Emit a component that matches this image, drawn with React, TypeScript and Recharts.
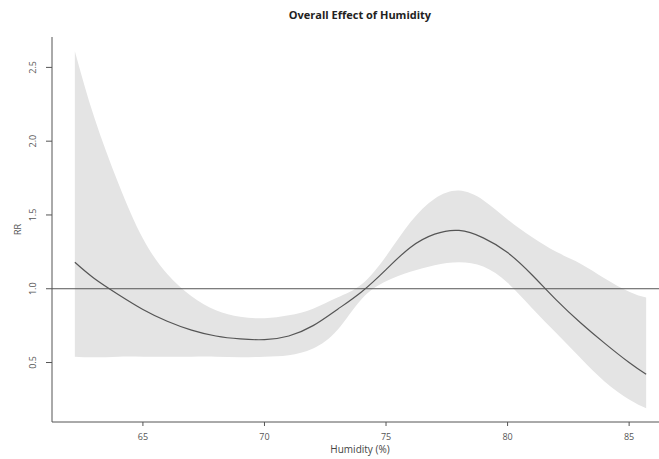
import {
  ComposedChart,
  Area,
  Line,
  XAxis,
  YAxis,
  ReferenceLine,
} from "recharts";

// humidity grid (%) and the fitted RR curve with its confidence band
const humidity = [
  62.2, 63, 64, 65, 66, 67, 68, 69, 70, 71, 72, 73, 74, 75, 76, 77, 78, 79, 80,
  81, 82, 83, 84, 85, 85.7,
];
const rr = [
  1.18, 1.07, 0.96, 0.86, 0.78, 0.72, 0.68, 0.66, 0.655, 0.68, 0.75, 0.86,
  0.98, 1.13, 1.28, 1.37, 1.395, 1.345, 1.245, 1.095, 0.925, 0.77, 0.63, 0.5,
  0.42,
];
const rrHigh = [
  2.61, 2.16, 1.71, 1.34, 1.1, 0.95, 0.855, 0.81, 0.8, 0.82, 0.865, 0.94, 1.03,
  1.22, 1.45, 1.61, 1.665, 1.6, 1.47, 1.35, 1.25, 1.17, 1.07, 0.98, 0.94,
];
const rrLow = [
  0.54, 0.535, 0.54, 0.54, 0.54, 0.54, 0.54, 0.536, 0.54, 0.55, 0.595, 0.72,
  0.93, 1.05, 1.115, 1.16, 1.18, 1.15, 1.04, 0.87, 0.7, 0.53, 0.37, 0.25, 0.19,
];
const xTicks = [65, 70, 75, 80, 85];
const yTicks = [0.5, 1.0, 1.5, 2.0, 2.5];

const FONT = "'Open Sans', 'DejaVu Sans', sans-serif";
const AXIS = "#555";

const data = humidity.map((h, i) => ({
  h,
  rr: rr[i],
  band: [rrLow[i], rrHigh[i]],
}));

function YTick({ x, y, payload }: any) {
  return (
    <text
      x={x - 8}
      y={y}
      transform={`rotate(-90, ${x - 8}, ${y})`}
      textAnchor="middle"
      fontSize={9}
      fontFamily={FONT}
      fill="#555"
    >
      {Number(payload.value).toFixed(1)}
    </text>
  );
}

function XTick({ x, y, payload }: any) {
  return (
    <text
      x={x}
      y={y + 12}
      textAnchor="middle"
      fontSize={9}
      fontFamily={FONT}
      fill="#555"
    >
      {payload.value}
    </text>
  );
}

export default function App() {
  return (
    <div
      style={{
        position: "fixed",
        top: 0,
        left: 0,
        width: 659,
        height: 459,
        overflow: "hidden",
        background: "#fff",
        fontFamily: FONT,
      }}
    >
      <div
        style={{
          position: "absolute",
          top: 7,
          left: 160,
          width: 400,
          textAlign: "center",
          fontSize: 11,
          fontWeight: 700,
          color: "#222",
        }}
      >
        Overall Effect of Humidity
      </div>
      <div
        style={{
          position: "absolute",
          top: 442,
          left: 260,
          width: 200,
          textAlign: "center",
          fontSize: 10,
          color: "#444",
        }}
      >
        Humidity (%)
      </div>
      <div
        style={{
          position: "absolute",
          top: 223,
          left: 2,
          width: 30,
          textAlign: "center",
          fontSize: 9,
          color: "#555",
          transform: "rotate(-90deg)",
        }}
      >
        RR
      </div>
      <div style={{ position: "absolute", top: 0, left: 0 }}>
        <ComposedChart
          width={700}
          height={459}
          data={data}
          margin={{ top: 37, right: 31, bottom: 0, left: 0 }}
        >
          <XAxis
            dataKey="h"
            type="number"
            domain={[61.26, 86.64]}
            ticks={xTicks}
            allowDataOverflow
            height={37}
            stroke={AXIS}
            tickSize={4}
            tick={<XTick />}
          />
          <YAxis
            type="number"
            domain={[0.097, 2.706]}
            ticks={yTicks}
            allowDataOverflow
            width={52}
            stroke={AXIS}
            tickSize={6}
            tick={<YTick />}
          />
          <Area
            dataKey="band"
            type="natural"
            fill="#e4e4e4"
            fillOpacity={1}
            stroke="none"
            isAnimationActive={false}
          />
          <ReferenceLine y={1} stroke={AXIS} strokeWidth={1} />
          <Line
            dataKey="rr"
            type="natural"
            stroke="#555"
            strokeWidth={1.2}
            dot={false}
            activeDot={false}
            isAnimationActive={false}
          />
        </ComposedChart>
      </div>
    </div>
  );
}
